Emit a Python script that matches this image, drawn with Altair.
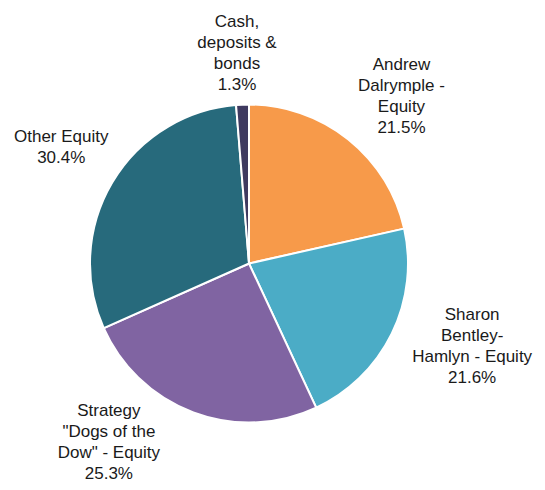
import altair as alt
import pandas as pd
import numpy as np

# ---- data ----
categories = [
    "Andrew Dalrymple - Equity",
    "Sharon Bentley-Hamlyn - Equity",
    'Strategy "Dogs of the Dow" - Equity',
    "Other Equity",
    "Cash, deposits & bonds",
]
values = [21.5, 21.6, 25.3, 30.4, 1.3]
name_lines = [
    ["Andrew", "Dalrymple -", "Equity"],
    ["Sharon", "Bentley-", "Hamlyn - Equity"],
    ["Strategy", '"Dogs of the', 'Dow" - Equity'],
    ["Other Equity"],
    ["Cash,", "deposits &", "bonds"],
]
colors = ["#F79A4A", "#4BACC6", "#8064A2", "#276A7C", "#3F3A60"]

# ---- label layout tweaks (angle nudge in value units, radius of first line in px) ----
label_nudge = [-0.30, -3.66, 6.40, 0.93, -0.14]
label_radius = [250, 229, 203.5, 226.5, 242]

total = float(np.sum(values))
cum = np.cumsum(values)
mid = cum - np.array(values) / 2.0

df = pd.DataFrame({
    "category": categories,
    "value": values,
    "idx": list(range(len(categories))),
    "label": ["\n".join(n + [f"{v:.1f}%"]) for n, v in zip(name_lines, values)],
    "lt": [(m + d) / total * 2 * np.pi for m, d in zip(mid, label_nudge)],
    "lr": label_radius,
})

cx, cy = 241, 255.5

base = alt.Chart(df)

pie = base.mark_arc(outerRadius=159, stroke="white", strokeWidth=2).encode(
    theta=alt.Theta("value:Q", stack=True),
    order=alt.Order("idx:Q"),
    color=alt.Color(
        "category:N",
        scale=alt.Scale(domain=categories, range=colors),
        legend=None,
    ),
    x=alt.value(cx),
    y=alt.value(cy),
)

labels = base.mark_text(
    font="Liberation Sans",
    fontSize=17,
    lineHeight=21,
    lineBreak="\n",
    align="center",
    baseline="middle",
    color="#1a1a1a",
).encode(
    theta=alt.Theta("lt:Q", scale=None),
    radius=alt.Radius("lr:Q", scale=None),
    text="label:N",
    x=alt.value(cx),
    y=alt.value(cy),
)

chart = (
    alt.layer(pie, labels)
    .resolve_scale(theta="independent")
    .properties(
        width=529,
        height=474,
        autosize=alt.AutoSizeParams(type="none"),
        padding=0,
        background="white",
    )
    .configure_view(stroke=None)
)

chart.save("out.html", embed_options={"renderer": "svg", "actions": False})
